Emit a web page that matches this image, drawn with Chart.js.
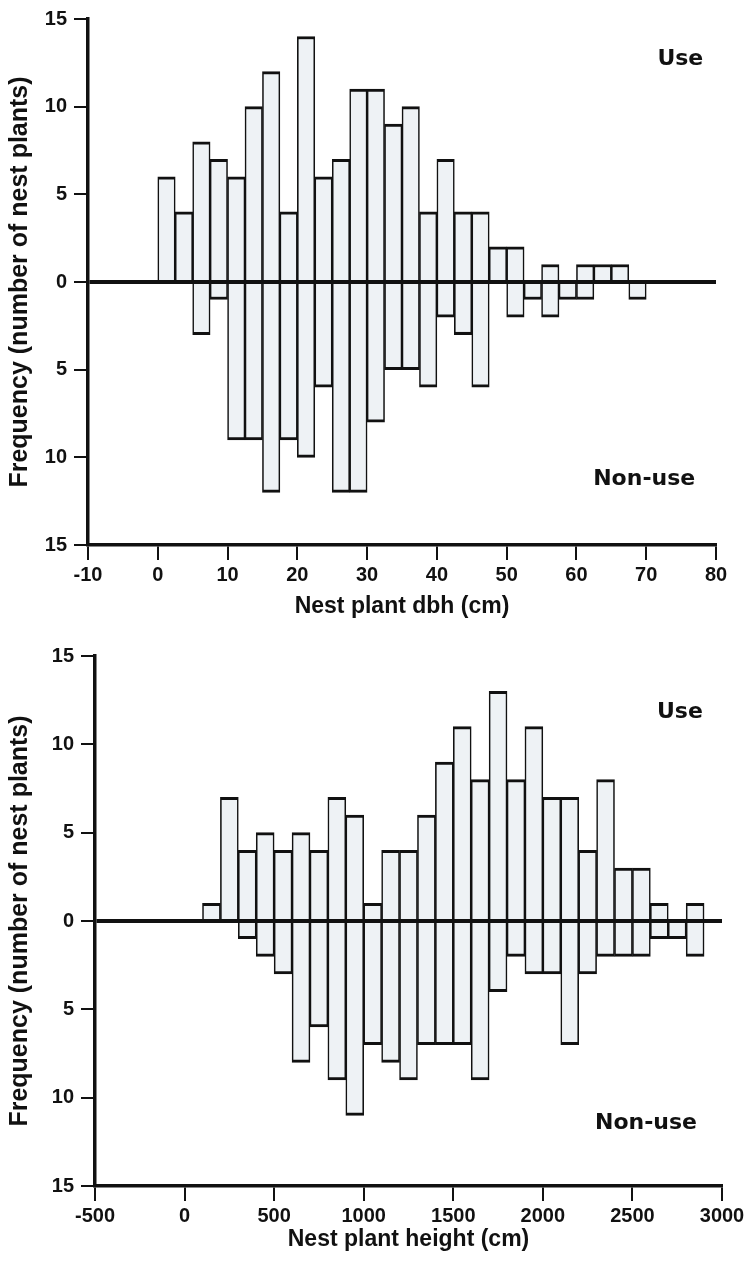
<!DOCTYPE html>
<html><head><meta charset="utf-8">
<script src="https://cdn.jsdelivr.net/npm/chart.js@4.4.0/dist/chart.umd.min.js"></script>
<style>
html,body{margin:0;padding:0;background:#fff;}
#w1{position:absolute;left:0;top:0;width:750px;height:630px;}
#w2{position:absolute;left:0;top:630px;width:750px;height:637px;}
</style></head><body>
<div id="w1"><canvas id="c1"></canvas></div>
<div id="w2"><canvas id="c2"></canvas></div>
<script>
// ---- data: nest plant dbh (cm), 2.5 cm bins ----
const dbhBinCenters = [1.25,3.75,6.25,8.75,11.25,13.75,16.25,18.75,21.25,23.75,26.25,28.75,31.25,33.75,36.25,38.75,41.25,43.75,46.25,48.75,51.25,53.75,56.25,58.75,61.25,63.75,66.25,68.75];
const dbhUse    = [6,4,8,7,6,10,12,4,14,6,7,11,11,9,10,4,7,4,4,2,2,0,1,0,1,1,1,0];
const dbhNonUse = [0,0,3,1,9,9,12,9,10,6,12,12,8,5,5,6,2,3,6,0,2,1,2,1,1,0,0,1];
const dbhTicks  = [-10,0,10,20,30,40,50,60,70,80];

// ---- data: nest plant height (cm), 100 cm bins ----
const heightBinCenters = [150,250,350,450,550,650,750,850,950,1050,1150,1250,1350,1450,1550,1650,1750,1850,1950,2050,2150,2250,2350,2450,2550,2650,2750,2850];
const heightUse    = [1,7,4,5,4,5,4,7,6,1,4,4,6,9,11,8,13,8,11,7,7,4,8,3,3,1,0,1];
const heightNonUse = [0,0,1,2,3,8,6,9,11,7,8,9,7,7,7,9,4,2,3,3,7,3,2,2,2,1,1,2];
const heightTicks  = [-500,0,500,1000,1500,2000,2500,3000];

const freqTicks = [-15,-10,-5,0,5,10,15];
const yTitle = 'Frequency (number of nest plants)';

const INK = '#111';
const FILL = '#eef2f5';
const tickFont = {family:'"Liberation Sans", Arial, sans-serif', weight:'bold', size:20};
const titleFont = {family:'"Liberation Sans", Arial, sans-serif', weight:'bold', size:23};

const cornerLabels = {
  id:'cornerLabels',
  afterDatasetsDraw(chart, args, opts){
    const {ctx} = chart; const x = chart.scales.x, y = chart.scales.y;
    ctx.save();
    ctx.font = 'bold 22px "DejaVu Sans", sans-serif';
    ctx.fillStyle = INK; ctx.textBaseline = 'alphabetic'; ctx.textAlign = 'left';
    (opts.items||[]).forEach(it => ctx.fillText(it.text, x.getPixelForValue(it.x), y.getPixelForValue(it.y)));
    ctx.restore();
  }
};

function makeChart(id, centers, use, nonUse, xTicks, xTitle, geo){
  const pts = (vals, sign) => vals.map((v,i) => ({x: centers[i], y: sign*v}));
  const ds = (data) => ({
    data, backgroundColor: FILL, borderColor: INK,
    borderWidth: {top:3, bottom:3, left:1.6, right:1.6}, borderSkipped:'start',
    barPercentage:1, categoryPercentage:1
  });
  return new Chart(document.getElementById(id), {
    type:'bar',
    data:{datasets:[ds(pts(use,1)), ds(pts(nonUse,-1))]},
    plugins:[cornerLabels],
    options:{
      responsive:true, maintainAspectRatio:false, animation:false,
      layout:{padding:{top:geo.top, right:geo.right, left:0, bottom:0}},
      plugins:{legend:{display:false}, tooltip:{enabled:false},
        cornerLabels:{items:geo.labels}},
      scales:{
        x:{type:'linear', stacked:true, offset:false, min:xTicks[0], max:xTicks[xTicks.length-1],
          afterBuildTicks: s => { s.ticks = xTicks.map(v => ({value:v})); },
          afterFit: s => { s.height = geo.xh; },
          border:{display:true, color:INK, width:3.5},
          grid:{offset:false, drawOnChartArea:false, drawTicks:true, tickLength:15, color:INK, tickColor:INK, lineWidth:2, tickWidth:2},
          ticks:{color:INK, font:tickFont, padding:3, maxRotation:0, autoSkip:false, callback: v => String(v)},
          title:{display:true, text:xTitle, color:INK, font:titleFont, padding:{top:0,bottom:geo.xtp}}
        },
        y:{stacked:true, min:-15, max:15, z:1,
          afterBuildTicks: s => { s.ticks = freqTicks.map(v => ({value:v})); },
          afterFit: s => { s.width = geo.yw; },
          border:{display:true, color:INK, width:3.5},
          grid:{offset:false, drawOnChartArea:true, drawTicks:true, tickLength:14,
            color: c => (c.tick && c.tick.value === 0) ? INK : 'rgba(0,0,0,0)',
            lineWidth: c => (c.tick && c.tick.value === 0) ? 4 : 2,
            tickColor:INK, tickWidth:2},
          ticks:{color:INK, font:tickFont, padding:7, callback: v => String(Math.abs(v))},
          title:{display:true, text:yTitle, color:INK, font:{...titleFont, size:25}, padding:{top:5,bottom:0}}
        }
      }
    }
  });
}

makeChart('c1', dbhBinCenters, dbhUse, dbhNonUse, dbhTicks, 'Nest plant dbh (cm)',
  {top:17, right:34, xh:85, yw:88, xtp:10,
   labels:[{text:'Use', x:71.6, y:12.4},{text:'Non-use', x:62.4, y:-11.6}]});
makeChart('c2', heightBinCenters, heightUse, heightNonUse, heightTicks, 'Nest plant height (cm)',
  {top:26, right:28, xh:81, yw:95, xtp:14,
   labels:[{text:'Use', x:2637, y:11.5},{text:'Non-use', x:2291, y:-11.8}]});
</script>
</body></html>
